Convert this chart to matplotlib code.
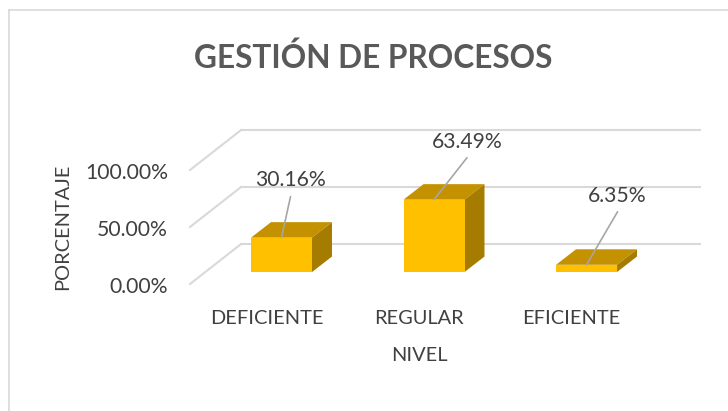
import matplotlib
matplotlib.use("Agg")
import matplotlib.pyplot as plt
from matplotlib.patches import Polygon

categories = ["DEFICIENTE", "REGULAR", "EFICIENTE"]
values = [30.16, 63.49, 6.35]
ticks = [0, 50, 100]
tick_labels = ["0.00%", "50.00%", "100.00%"]

plt.rcParams["font.family"] = ["Lato", "DejaVu Sans"]

W, H = 728, 411
fig = plt.figure(figsize=(W / 100, H / 100), dpi=100)

# axes runs from the front of the left wall to the end of the back grid lines
left, right, top, bottom = 190, 700, 130, 284
ax = fig.add_axes([left / W, 1 - bottom / H, (right - left) / W, (bottom - top) / H])
ax.set_xlim(-0.6, 2.744)
ax.set_ylim(-10.5, 124.6)
ax.axis("off")

grid = "#d9d9d9"
text_col = "#404040"
front = "#ffc000"
side = "#a67c00"
roof = "#c49200"

# 3d look: wall depth and bar depth
wall_dx, wall_dy = 0.334, 35
bar_dx, bar_dy = 0.131, 13.6
bar_w = 0.4

for t, lab in zip(ticks, tick_labels):
    y = t - 10.5
    ax.plot([-0.6, -0.6 + wall_dx], [y, y + wall_dy], color=grid, lw=1.5, clip_on=False, zorder=1)
    ax.plot([-0.6 + wall_dx, 2.744], [y + wall_dy, y + wall_dy], color=grid, lw=1.5, clip_on=False, zorder=1)
    ax.annotate(lab, (-0.6, y), xytext=(-22, -2.5), textcoords="offset pixels", ha="right", va="center",
                fontsize=15.2, color=text_col)

for i, v in enumerate(values):
    x0, x1 = i - bar_w / 2, i + bar_w / 2
    ax.add_patch(Polygon([(x0, v), (x1, v), (x1 + bar_dx, v + bar_dy), (x0 + bar_dx, v + bar_dy)], color=roof, lw=0, zorder=2))
    ax.add_patch(Polygon([(x1, 0), (x1 + bar_dx, bar_dy), (x1 + bar_dx, v + bar_dy), (x1, v)], color=side, lw=0, zorder=2))
    ax.bar(i, v, width=bar_w, color=front, zorder=3)

# labels and their leader lines, offsets in pixels from the bar top
label_off = [(9, 58), (33, 58), (31, 69)]
line_off = [(9, 41), (33, 42), (31, 53)]
for i, v in enumerate(values):
    ax.annotate("", (i, v), xytext=line_off[i], textcoords="offset pixels",
                arrowprops=dict(arrowstyle="-", color="#a6a6a6", lw=1.2, shrinkA=0, shrinkB=0), zorder=4)
    ax.annotate(f"{v:.2f}%", (i, v), xytext=label_off[i], textcoords="offset pixels", ha="center", va="center",
                fontsize=15.2, color=text_col, zorder=5)
    ax.annotate(categories[i], (i, 0), xytext=(-15, -46), textcoords="offset pixels", ha="center", va="center",
                fontsize=14.4, color=text_col)

fig.text(373 / W, 1 - 58 / H, "GESTIÓN DE PROCESOS", ha="center", va="center", fontsize=22.8,
         fontweight="bold", color="#595959")
fig.text(419 / W, 1 - 355 / H, "NIVEL", ha="center", va="center", fontsize=14.4, color=text_col)
fig.text(63 / W, 1 - 227 / H, "PORCENTAJE", ha="center", va="center", rotation=90, fontsize=14.4, color=text_col)

# chart frame
fig.add_artist(plt.Line2D([9 / W, 9 / W], [0, 1 - 10.5 / H], color=grid, lw=1.2))
fig.add_artist(plt.Line2D([9 / W, 1], [1 - 10.5 / H, 1 - 10.5 / H], color=grid, lw=1.2))

fig.savefig("out.png", dpi=100)
